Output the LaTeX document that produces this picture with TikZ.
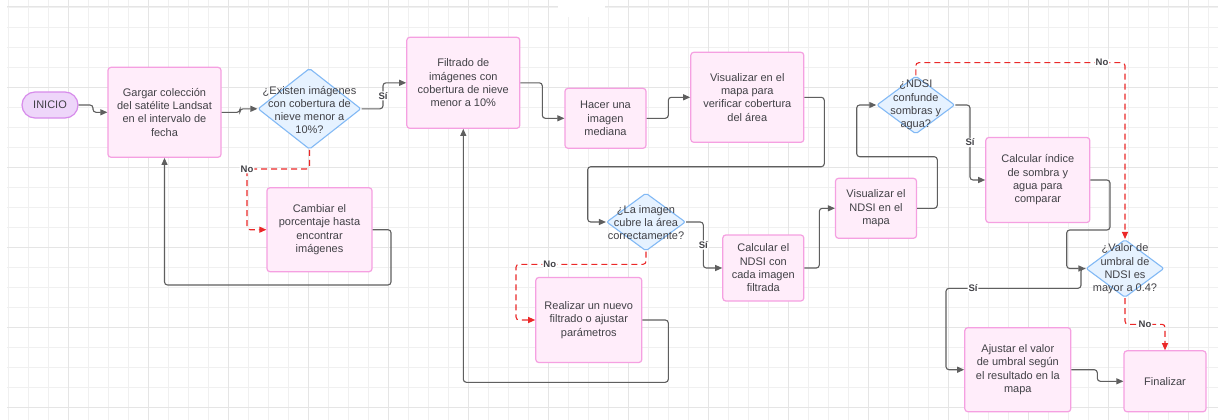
\documentclass[tikz,border=0pt]{standalone}
\usepackage{fontspec}
\setmainfont{Liberation Sans}
\usetikzlibrary{arrows.meta,shapes.geometric,shapes.misc}
\definecolor{gridmin}{RGB}{240,240,240}
\definecolor{gridmaj}{RGB}{229,229,229}
\definecolor{boxfill}{RGB}{255,237,250}
\definecolor{boxdraw}{RGB}{245,160,225}
\definecolor{diafill}{RGB}{230,242,255}
\definecolor{diadraw}{RGB}{130,185,245}
\definecolor{startfill}{RGB}{238,214,250}
\definecolor{startdraw}{RGB}{215,140,235}
\definecolor{txtc}{RGB}{65,65,70}
\definecolor{linec}{RGB}{95,95,95}
\definecolor{redc}{RGB}{235,40,40}
\tikzset{
  txt/.style={font=\fontsize{11}{13.3}\selectfont, text=txtc, align=center, inner sep=0pt},
  box/.style={txt, draw=boxdraw, fill=boxfill, line width=1.2pt, rounded corners=3pt, rectangle},
  dia/.style={draw=diadraw, fill=diafill, line width=1.1pt, diamond, inner sep=0pt, rounded corners=2pt},
  startbox/.style={txt, draw=startdraw, fill=startfill, line width=1.2pt, rounded rectangle},
  conn/.style={draw=linec, line width=1.1pt, rounded corners=3pt, -{Triangle[length=7pt,width=6pt]}},
  noconn/.style={draw=redc, line width=1.1pt, dash pattern=on 6pt off 4pt, rounded corners=3pt, -{Triangle[length=7pt,width=6pt]}},
  lbl/.style={fill=white, font=\bfseries\fontsize{9.5}{10}\selectfont, text=txtc, inner sep=1pt, solid}
}
\begin{document}
\begin{tikzpicture}[x=1pt,y=-1pt]
\useasboundingbox (0,0) rectangle (1218,420);
\fill[white] (0,0) rectangle (1218,420);
% grid
\foreach \gx in {8,28,...,1208} {\draw[gridmin, line width=0.8pt] (\gx,0) -- (\gx,420);}
\foreach \gy in {7,27,...,407} {\draw[gridmin, line width=0.8pt] (7,\gy) -- (1218,\gy);}
\foreach \gx in {68,148,...,1188} {\draw[gridmaj, line width=1pt] (\gx,0) -- (\gx,420);}
\foreach \gy in {7,87,...,407} {\draw[gridmaj, line width=1pt] (7,\gy) -- (1218,\gy);}
\fill[white] (558,0) rectangle (605,17);

% nodes
\node[startbox, minimum width=56pt, minimum height=26pt] (inicio) at (50,105) {INICIO};
\node[box, minimum width=113pt, minimum height=90pt] (gargar) at (164.5,112.3) {Gargar colección\\del satélite Landsat\\en el intervalo de\\fecha};
\node[dia, minimum width=103pt, minimum height=81pt] (d1) at (309.5,108.8) {};
\node[txt] at (309.5,110) {¿Existen imágenes\\con cobertura de\\nieve menor a\\10\%?};
\node[box, minimum width=105pt, minimum height=84pt] (cambiar) at (319.5,229.7) {Cambiar el\\porcentaje hasta\\encontrar\\imágenes};
\node[box, minimum width=113pt, minimum height=91pt] (filtrado) at (463.3,82.8) {Filtrado de\\imágenes con\\cobertura de nieve\\menor a 10\%};
\node[box, minimum width=81pt, minimum height=60pt] (hacer) at (605.5,118.3) {Hacer una\\imagen\\mediana};
\node[box, minimum width=113pt, minimum height=90pt] (vis) at (747.3,97.3) {Visualizar en el\\mapa para\\verificar cobertura\\del área};
\node[dia, minimum width=79pt, minimum height=58pt] (d2) at (646,222) {};
\node[txt] at (646,222.7) {¿La imagen\\cubre la área\\correctamente?};
\node[box, minimum width=81pt, minimum height=66pt] (calcn) at (763.3,268) {Calcular el\\NDSI con\\cada imagen\\filtrada};
\node[box, minimum width=106pt, minimum height=85pt] (realizar) at (588.8,320) {Realizar un nuevo\\filtrado o ajustar\\parámetros};
\node[box, minimum width=81pt, minimum height=60pt] (visn) at (876,208.3) {Visualizar el\\NDSI en el\\mapa};
\node[dia, minimum width=78pt, minimum height=58pt] (d3) at (915.8,105) {};
\node[txt] at (915.8,105) {¿NDSI\\confunde\\sombras y\\agua?};
\node[box, minimum width=104pt, minimum height=85pt] (calci) at (1037.8,180) {Calcular índice\\de sombra y\\agua para\\comparar};
\node[dia, minimum width=78pt, minimum height=58pt] (d4) at (1125,268.5) {};
\node[txt] at (1125,269) {¿Valor de\\umbral de\\NDSI es\\mayor a 0.4?};
\node[box, minimum width=106pt, minimum height=84pt] (ajustar) at (1017.8,369.7) {Ajustar el valor\\de umbral según\\el resultado en la\\mapa};
\node[box, minimum width=82pt, minimum height=61pt] (final) at (1165,381.3) {Finalizar};

% connectors
\draw[conn] (inicio.east) -- (93,105) |- (gargar.west);
\draw[conn] (gargar.east) -- (240,112.3) |- (d1.west);
\draw[conn] (d1.east) -- (383,108.8) -- node[lbl]{Sí} (383,82.8) -- (filtrado.west);
\draw[noconn] (d1.south) -- (309.5,169) -- (247,169) node[lbl]{No} |- (cambiar.west);
\draw[conn] (cambiar.east) -- (391,229.7) |- (164.5,285) -- (gargar.south);
\draw[conn] (filtrado.east) -- (542.3,82.8) |- (hacer.west);
\draw[conn] (hacer.east) -- (668.3,118.3) |- (vis.west);
\draw[conn] (vis.east) -- (824.3,97.3) -- (824.3,166.7) -- (587.7,166.7) |- (d2.west);
\draw[conn] (d2.east) -- (703.3,222) -- node[lbl]{Sí} (703.3,268) -- (calcn.west);
\draw[noconn] (d2.south) -- (646,264.3) -- node[lbl, pos=0.74]{No} (516,264.3) |- (realizar.west);
\draw[conn] (realizar.east) -- (668.3,320) |- (463.3,382.3) -- (filtrado.south);
\draw[conn] (calcn.east) -- (819.3,268) |- (visn.west);
\draw[conn] (visn.east) -- (937.3,208.3) -- (937.3,156.7) -- (856.7,156.7) |- (d3.west);
\draw[conn] (d3.east) -- (970,105) -- node[lbl]{Sí} (970,180) -- (calci.west);
\draw[noconn] (d3.north) -- (915.8,62.7) -- node[lbl, pos=0.89]{No} (1125,62.7) -- (d4.north);
\draw[conn] (calci.east) -- (1110,180) -- (1110,230) -- (1066.7,230) |- (d4.west);
\draw[conn] (d4.west) -- (1081,268.5) -- (1081,288.3) -- node[lbl, pos=0.8]{Sí} (946,288.3) |- (ajustar.west);
\draw[noconn] (d4.south) -- (1125,324.3) -- node[lbl]{No} (1165,324.3) -- (final.north);
\draw[conn] (ajustar.east) -- (1097.3,369.7) |- (final.west);
\end{tikzpicture}
\end{document}
